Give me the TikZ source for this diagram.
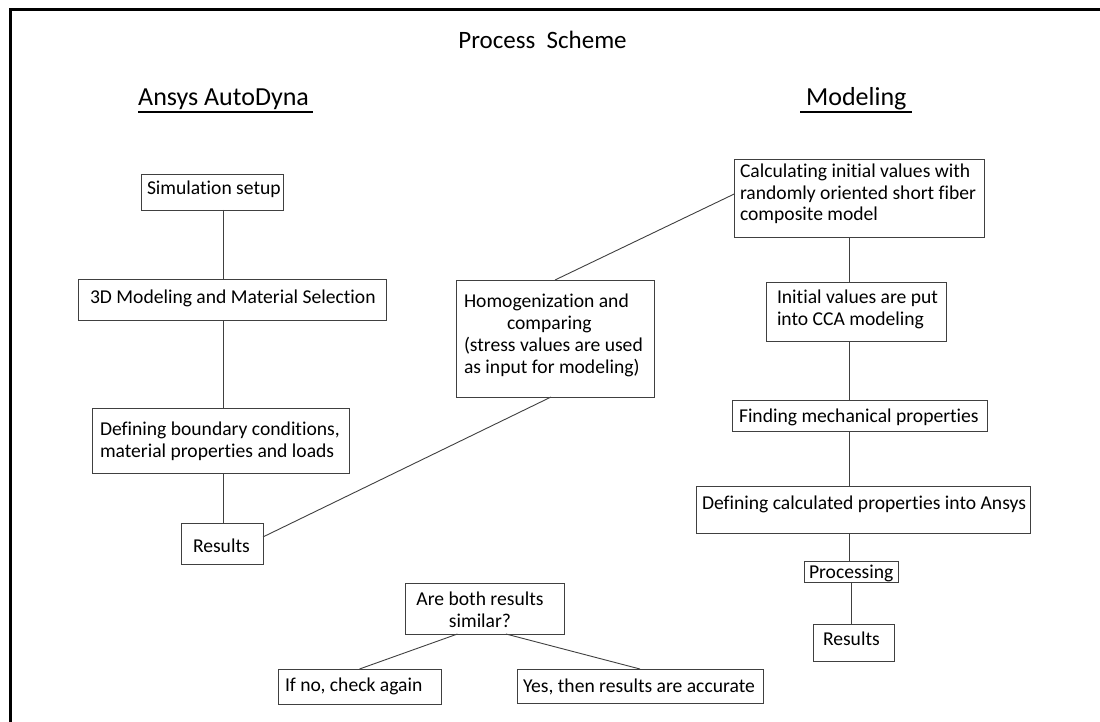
\documentclass[tikz,border=0pt]{standalone}
\usepackage{fontspec}
\setmainfont{Carlito}[Ligatures={NoCommon}]
\usetikzlibrary{calc}
\newcommand\bt[5]{\parbox[c][#2pt][t]{#1pt}{\raggedright\leftskip=#3pt\rightskip=-100pt plus 1fil\rule{0pt}{#4pt}#5}}
\newcommand\bcen[5]{\parbox[c][#2pt][t]{#1pt}{\centering\rightskip=#3pt plus 1fil\rule{0pt}{#4pt}#5}}
\newcommand\hul[1]{\setbox0=\hbox{#1}\rlap{\rule[-7pt]{\wd0}{2pt}}\box0}
\begin{document}
\begin{tikzpicture}[x=1pt,y=-1pt,
  bx/.style={draw=black!75, line width=0.9pt, inner sep=0pt, outer sep=0pt, font=\fontsize{19.6}{22}\selectfont},
  ln/.style={draw=black!75, line width=0.9pt},
  head/.style={inner sep=0pt, font=\fontsize{26}{30}\selectfont}]
\useasboundingbox (0,0) rectangle (1100,722);
\fill[white] (0,0) rectangle (1100,722);
\draw[line width=3pt] (10.5,740) -- (10.5,10) -- (1110,10);
% titles
\node[anchor=base, inner sep=0pt, font=\fontsize{25}{30}\selectfont] (title) at (542.5,49) {Process\ \ Scheme};
\node[head, anchor=base west] (hA) at (138,106) {\hul{Ansys AutoDyna\,}};
\node[head, anchor=base west] (hM) at (800,106) {\hul{\ Modeling\ }};
% left column
\node[bx] (sim) at (212,192) {\bt{142}{36}{6}{21}{Simulation setup}};
\node[bx] (three) at (232,299.5) {\bt{308}{41}{12}{24}{3D Modeling and Material Selection}};
\node[bx] (bnd) at (220.5,440.5) {\bt{257}{65}{8}{27}{Defining boundary conditions,\\material properties and loads}};
\node[bx] (resL) at (222,543.5) {\bt{82}{41}{12}{29}{Results}};
% middle
\node[bx] (homog) at (555,338.5) {\bt{198}{117}{8}{27}{Homogenization and\\\hspace*{43pt}comparing\\(stress values are used\\as input for modeling)}};
% right column
\node[bx] (calc) at (859,198) {\bt{250}{78}{6}{18}{Calculating initial values with\\randomly oriented short fiber\\composite model}};
\node[bx] (init) at (856,311.5) {\bt{180}{59}{11}{21}{Initial values are put\\into CCA modeling}};
\node[bx] (find) at (859.5,415.5) {\bt{255}{31}{7}{22}{Finding mechanical properties}};
\node[bx] (defc) at (863,509.5) {\bt{334}{47}{6}{23}{Defining calculated properties into Ansys}};
\node[bx] (proc) at (851,571.5) {\bt{94}{21}{5}{17}{Processing}};
\node[bx] (resR) at (853.5,642.5) {\bt{81}{37}{10}{21}{Results}};
% bottom
\node[bx] (are) at (484.5,608.5) {\bcen{159}{51}{9}{22}{Are both results\\similar?}};
\node[bx] (ifno) at (359.5,686.5) {\bt{163}{35}{7}{22}{If no, check again}};
\node[bx] (yes) at (640,686) {\bt{246}{34}{6}{23}{Yes, then results are accurate}};
% connectors
\coordinate (colL) at (223,0);
\coordinate (colR) at (849,0);
\coordinate (colR2) at (851,0);
\draw[ln] (sim.south -| colL) -- (three.north -| colL);
\draw[ln] (three.south -| colL) -- (bnd.north -| colL);
\draw[ln] (bnd.south -| colL) -- (resL.north -| colL);
\draw[ln] ($(resL.north east)!0.34!(resL.south east)$) -- ($(homog.south west)!0.48!(homog.south east)$);
\draw[ln] (homog.north) -- ($(calc.north west)!0.45!(calc.south west)$);
\draw[ln] (calc.south -| colR) -- (init.north -| colR);
\draw[ln] (init.south -| colR) -- (find.north -| colR);
\draw[ln] (find.south -| colR) -- (defc.north -| colR);
\draw[ln] (defc.south -| colR) -- (proc.north -| colR);
\draw[ln] (proc.south -| colR2) -- (resR.north -| colR2);
\draw[ln] ($(are.south west)!0.33!(are.south east)$) -- (ifno.north);
\draw[ln] ($(are.south west)!0.635!(are.south east)$) -- (yes.north);
\end{tikzpicture}
\end{document}
